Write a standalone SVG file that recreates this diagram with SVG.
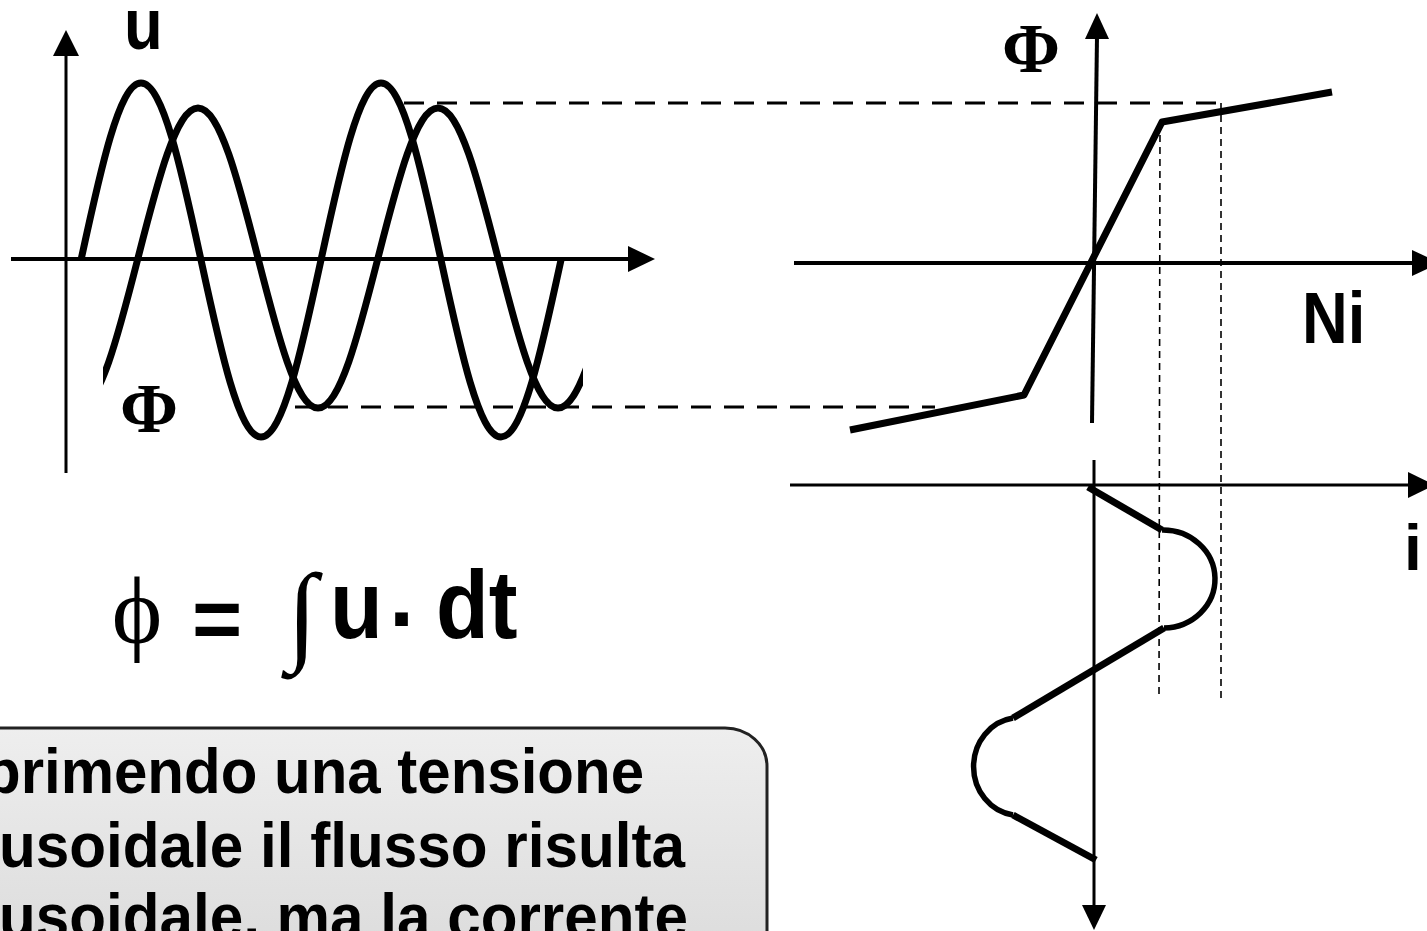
<svg xmlns="http://www.w3.org/2000/svg" width="1427" height="931" viewBox="0 0 1427 931">
<style>
.ax{stroke:#000;fill:none;stroke-width:4}
.axt{stroke:#000;fill:none;stroke-width:3}
.head{fill:#000;stroke:none}
.curve{stroke:#000;fill:none;stroke-width:7;stroke-linejoin:round}
.dash{stroke:#000;fill:none;stroke-width:3;stroke-dasharray:20 13}
.thin{stroke:#000;fill:none;stroke-width:1.6;stroke-dasharray:7 5}
.sans{font-family:"Liberation Sans",Arial,sans-serif;font-weight:bold;fill:#000}
.serif{font-family:"Liberation Serif","Times New Roman",serif;font-weight:bold;fill:#000}
.math{font-family:"Liberation Serif","DejaVu Serif",serif;fill:#000}
</style>
<defs>
<clipPath id="phiclip"><rect x="103" y="0" width="480" height="480"/></clipPath>
<linearGradient id="boxg" x1="0" y1="0" x2="0" y2="1">
<stop offset="0" stop-color="#eeeeee"/>
<stop offset="1" stop-color="#d6d6d6"/>
</linearGradient>
</defs>
<rect width="1427" height="931" fill="#fff"/>

<g id="left-graph">
<line class="axt" x1="66" y1="473" x2="66" y2="50"/>
<polygon class="head" points="66,30 53,56 79,56"/>
<line class="ax" x1="11" y1="259" x2="632" y2="259"/>
<polygon class="head" points="655,259 628,246 628,272"/>
<path class="curve" d="M81,260 C100.6,169.3 119.3,83 141,83 C162.7,83 181.4,169.3 201,260 C220.6,350.7 239.3,437 261,437 C282.7,437 301.4,350.7 321,260 C340.6,169.3 359.3,83 381,83 C402.7,83 421.4,169.3 441,260 C460.6,350.7 479.3,437 501,437 C522.7,437 541.4,350.7 561,260"/>
<path class="curve" clip-path="url(#phiclip)" d="M78,408 C99.7,408 118.4,334.8 138,258 C157.6,181.2 176.3,108 198,108 C219.7,108 238.4,181.2 258,258 C277.6,334.8 296.3,408 318,408 C339.7,408 358.4,334.8 378,258 C397.6,181.2 416.3,108 438,108 C459.7,108 478.4,181.2 498,258 C517.6,334.8 536.3,408 558,408 C579.7,408 598.4,334.8 618,258"/>
<text class="sans" font-size="72" transform="translate(124,49) scale(0.88,1)">u</text>
<text class="serif" font-size="70" x="149" y="432" text-anchor="middle">Φ</text>
</g>

<g id="connectors">
<line class="dash" x1="404" y1="103" x2="1220" y2="103"/>
<line class="dash" x1="295" y1="407" x2="935" y2="407"/>
<line class="thin" x1="1160" y1="123" x2="1159" y2="696"/>
<line class="thin" x1="1221" y1="103" x2="1221" y2="698"/>
</g>

<g id="magnetization-graph">
<line class="ax" x1="1097" y1="36" x2="1092" y2="423"/>
<polygon class="head" points="1097,13 1085,39 1109,39"/>
<line class="ax" x1="794" y1="263" x2="1415" y2="263"/>
<polygon class="head" points="1440,263 1412,250 1412,276"/>
<polyline class="curve" points="850,430 1024,395 1162,122 1332,92"/>
<text class="serif" font-size="70" x="1031" y="72" text-anchor="middle">Φ</text>
<text class="sans" font-size="72" transform="translate(1302,343) scale(0.88,1)">Ni</text>
</g>

<g id="current-graph">
<line class="axt" x1="790" y1="485" x2="1410" y2="485"/>
<polygon class="head" points="1435,485 1408,472 1408,498"/>
<line class="axt" x1="1094" y1="460" x2="1094" y2="908"/>
<polygon class="head" points="1094,930 1082,905 1106,905"/>
<path class="curve" d="M1088,487 L1162,530"/>
<path class="curve" style="stroke-width:5.5" d="M1162,530 A52,49 0 0 1 1164,628"/>
<path class="curve" d="M1164,628 L1013,718"/>
<path class="curve" style="stroke-width:5.5" d="M1013,718 A46,49 0 0 0 1013,815"/>
<path class="curve" d="M1013,815 L1096,860"/>
<text class="sans" font-size="64" x="1404" y="570">i</text>
</g>

<g id="formula">
<text class="math" font-size="96" x="137" y="643" text-anchor="middle">ϕ</text>
<text class="sans" font-size="86" x="217" y="648" text-anchor="middle">=</text>
<text class="math" font-size="110" x="302" y="650" text-anchor="middle">∫</text>
<text class="sans" font-size="96" transform="translate(330,638) scale(0.9,1)">u</text>
<text class="sans" font-size="90" x="404" y="650" text-anchor="middle">·</text>
<text class="sans" font-size="96" transform="translate(436,638) scale(0.9,1)">dt</text>
</g>

<g id="note-box">
<rect x="-60" y="728" width="827" height="300" rx="42" ry="38" fill="url(#boxg)" stroke="#222" stroke-width="3"/>
<text class="sans" font-size="63" x="-16" y="793" textLength="660" lengthAdjust="spacingAndGlyphs">primendo una tensione</text>
<text class="sans" font-size="63" x="-1" y="867" textLength="686" lengthAdjust="spacingAndGlyphs">usoidale il flusso risulta</text>
<text class="sans" font-size="63" x="-1" y="938" textLength="689" lengthAdjust="spacingAndGlyphs">usoidale, ma la corrente</text>
</g>
</svg>
